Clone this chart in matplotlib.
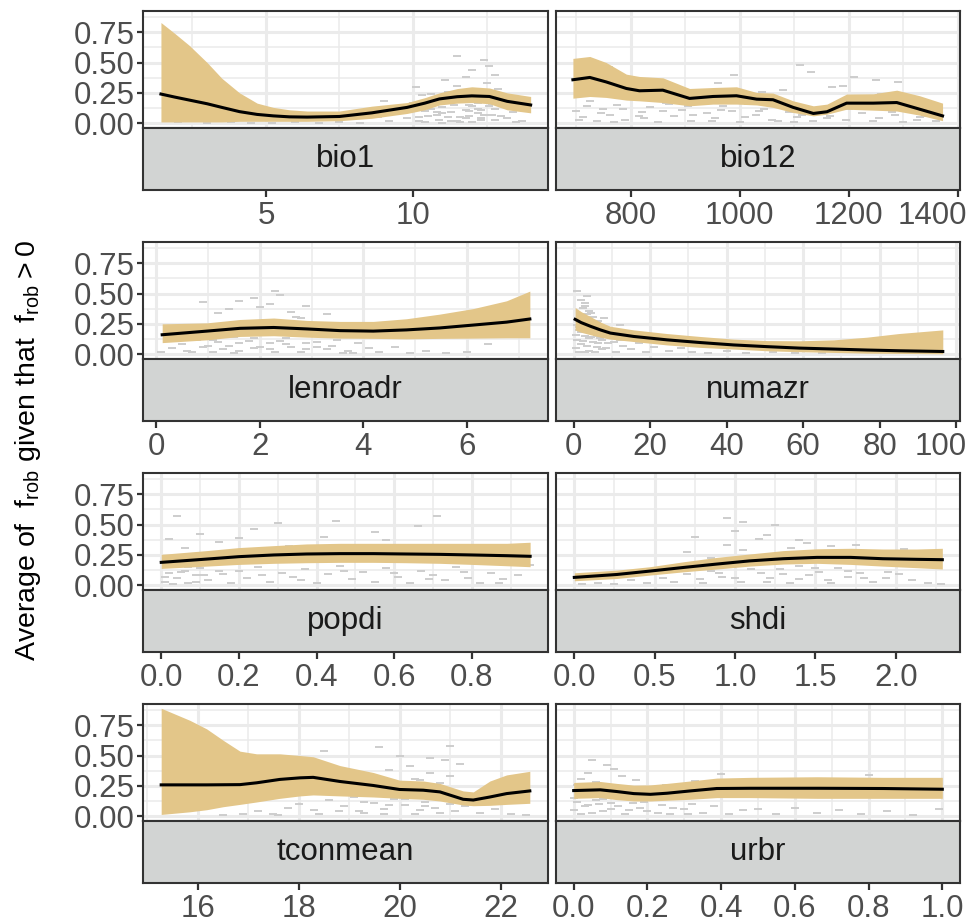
import matplotlib
matplotlib.use("Agg")
import matplotlib.pyplot as plt
import numpy as np

plt.rcParams['font.family'] = ['Liberation Sans', 'DejaVu Sans']
plt.rcParams['mathtext.fontset'] = 'custom'
plt.rcParams['mathtext.rm'] = 'Liberation Sans'

# ---- smooth fits (x, lower, fit, upper) ----
bio1_x = [1.43, 1.9, 2.4, 3.0, 3.5, 4.1, 4.7, 5.25, 5.8, 6.4, 7.5, 8.6, 9.8, 10.4, 10.9, 11.5, 12.0, 12.6, 13.2, 14.0]
bio1_lo = [0.01, 0.01, 0.01, 0.01, 0.01, 0.015, 0.015, 0.015, 0.015, 0.015, 0.02, 0.04, 0.08, 0.11, 0.15, 0.165, 0.17, 0.16, 0.11, 0.085]
bio1_fit = [0.24, 0.215, 0.19, 0.16, 0.13, 0.095, 0.072, 0.06, 0.052, 0.05, 0.055, 0.085, 0.13, 0.165, 0.20, 0.218, 0.225, 0.22, 0.18, 0.15]
bio1_hi = [0.83, 0.74, 0.64, 0.50, 0.37, 0.25, 0.165, 0.13, 0.11, 0.10, 0.10, 0.14, 0.17, 0.21, 0.25, 0.285, 0.30, 0.29, 0.25, 0.22]

bio12_x = [694, 725, 755, 792, 816, 859, 908, 951, 994, 1031, 1061, 1098, 1135, 1160, 1196, 1245, 1288, 1330, 1372]
bio12_lo = [0.206, 0.22, 0.212, 0.19, 0.184, 0.17, 0.143, 0.157, 0.157, 0.15, 0.13, 0.088, 0.06, 0.074, 0.115, 0.107, 0.10, 0.066, 0.02]
bio12_fit = [0.358, 0.377, 0.34, 0.286, 0.267, 0.272, 0.204, 0.22, 0.226, 0.198, 0.193, 0.13, 0.08, 0.094, 0.165, 0.165, 0.17, 0.115, 0.06]
bio12_hi = [0.534, 0.55, 0.50, 0.404, 0.385, 0.374, 0.286, 0.294, 0.30, 0.253, 0.248, 0.184, 0.143, 0.157, 0.24, 0.242, 0.272, 0.226, 0.165]

lenroadr_x = [0.12, 0.98, 1.62, 2.27, 2.91, 3.55, 4.19, 4.83, 5.47, 6.12, 6.76, 7.21]
lenroadr_lo = [0.095, 0.118, 0.146, 0.152, 0.14, 0.132, 0.13, 0.126, 0.13, 0.132, 0.135, 0.135]
lenroadr_fit = [0.16, 0.19, 0.213, 0.22, 0.208, 0.194, 0.19, 0.20, 0.216, 0.24, 0.264, 0.29]
lenroadr_hi = [0.25, 0.258, 0.286, 0.298, 0.278, 0.27, 0.27, 0.292, 0.33, 0.376, 0.44, 0.52]

numazr_x = [0.4, 2.0, 4.4, 7.0, 9.6, 15.7, 24.4, 33.0, 41.8, 50.5, 59.0, 68.0, 76.7, 85.0, 96.5]
numazr_lo = [0.20, 0.18, 0.16, 0.14, 0.124, 0.104, 0.076, 0.056, 0.042, 0.028, 0.02, 0.014, 0.008, 0.006, 0.003]
numazr_fit = [0.287, 0.26, 0.23, 0.20, 0.174, 0.146, 0.118, 0.096, 0.076, 0.062, 0.05, 0.042, 0.034, 0.028, 0.022]
numazr_hi = [0.385, 0.35, 0.31, 0.265, 0.23, 0.20, 0.17, 0.146, 0.124, 0.112, 0.11, 0.118, 0.14, 0.17, 0.20]

popdi_x = [0.0, 0.117, 0.2, 0.29, 0.374, 0.46, 0.546, 0.63, 0.717, 0.80, 0.89, 0.95]
popdi_lo = [0.138, 0.157, 0.171, 0.18, 0.185, 0.188, 0.188, 0.185, 0.18, 0.171, 0.16, 0.152]
popdi_fit = [0.188, 0.215, 0.235, 0.249, 0.257, 0.26, 0.26, 0.257, 0.254, 0.249, 0.243, 0.238]
popdi_hi = [0.254, 0.285, 0.31, 0.326, 0.34, 0.345, 0.345, 0.345, 0.345, 0.345, 0.345, 0.354]

shdi_x = [0.0, 0.265, 0.47, 0.68, 0.887, 1.09, 1.30, 1.51, 1.72, 1.92, 2.13, 2.29]
shdi_lo = [0.036, 0.055, 0.083, 0.11, 0.133, 0.157, 0.174, 0.18, 0.171, 0.157, 0.144, 0.133]
shdi_fit = [0.064, 0.088, 0.116, 0.146, 0.174, 0.20, 0.218, 0.229, 0.229, 0.218, 0.213, 0.21]
shdi_hi = [0.102, 0.124, 0.152, 0.193, 0.229, 0.257, 0.285, 0.30, 0.304, 0.298, 0.298, 0.304]

tconmean_x = [15.28, 15.85, 16.18, 16.51, 16.84, 17.17, 17.63, 18.03, 18.29, 18.82, 19.48, 20.0, 20.47, 20.8, 21.26, 21.46, 21.79, 22.12, 22.58]
tconmean_lo = [0.014, 0.036, 0.053, 0.078, 0.097, 0.117, 0.147, 0.167, 0.175, 0.167, 0.158, 0.147, 0.139, 0.125, 0.092, 0.086, 0.089, 0.097, 0.106]
tconmean_fit = [0.258, 0.258, 0.258, 0.259, 0.26, 0.275, 0.303, 0.316, 0.32, 0.286, 0.253, 0.22, 0.214, 0.20, 0.139, 0.133, 0.158, 0.186, 0.208]
tconmean_hi = [0.89, 0.79, 0.72, 0.625, 0.536, 0.514, 0.514, 0.50, 0.49, 0.417, 0.36, 0.297, 0.29, 0.27, 0.208, 0.20, 0.29, 0.34, 0.37]

urbr_x = [0.0, 0.072, 0.117, 0.163, 0.208, 0.253, 0.316, 0.388, 0.479, 0.66, 0.84, 1.0]
urbr_lo = [0.147, 0.153, 0.136, 0.125, 0.125, 0.131, 0.139, 0.153, 0.153, 0.147, 0.147, 0.147]
urbr_fit = [0.211, 0.217, 0.203, 0.186, 0.18, 0.189, 0.208, 0.228, 0.23, 0.23, 0.228, 0.222]
urbr_hi = [0.278, 0.286, 0.27, 0.256, 0.258, 0.27, 0.29, 0.314, 0.32, 0.325, 0.32, 0.32]

# ---- raw observations (grey dashes), approximate ----
bio1_px = [2.0, 3.0, 3.8, 4.5, 5.2, 6.0, 6.8, 7.5, 8.2, 8.8, 9.2, 9.5, 9.8, 10.0, 10.2, 10.4, 10.5, 10.7,
           10.9, 11.0, 11.2, 11.3, 11.5, 11.6, 11.8, 11.9, 12.0, 12.1, 12.3, 12.4, 12.5, 12.7, 12.8, 13.0,
           13.2, 13.4, 13.7, 10.6, 11.1, 11.4, 11.7, 12.2, 12.6, 11.0, 12.0, 12.4, 10.3, 11.8, 12.9, 13.5,
           9.0, 10.1, 11.5, 12.2, 11.3, 11.9, 12.3, 10.8, 11.6, 12.8,
           10.2, 10.6, 11.0, 11.4, 11.8, 12.2, 12.6, 13.0, 10.4, 10.8, 11.2, 11.6, 12.0, 12.4, 12.8, 11.1,
           11.5, 11.9, 12.3, 12.7]
bio1_py = [0.01, 0.0, 0.01, 0.0, 0.0, 0.01, 0.0, 0.01, 0.0, 0.05, 0.02, 0.08, 0.04, 0.17, 0.02, 0.10, 0.06,
           0.20, 0.03, 0.13, 0.26, 0.09, 0.31, 0.05, 0.38, 0.15, 0.44, 0.22, 0.11, 0.52, 0.33, 0.07, 0.40,
           0.16, 0.04, 0.09, 0.02, 0.24, 0.36, 0.18, 0.27, 0.12, 0.47, 0.0, 0.01, 0.20, 0.23, 0.04, 0.28,
           0.01, 0.18, 0.30, 0.55, 0.08, 0.02, 0.06, 0.03, 0.07, 0.01, 0.12,
           0.05, 0.12, 0.08, 0.15, 0.11, 0.17, 0.14, 0.06, 0.01, 0.09, 0.05, 0.19, 0.14, 0.07, 0.03, 0.18,
           0.02, 0.10, 0.04, 0.16]

bio12_px = [700, 712, 725, 738, 750, 762, 775, 790, 805, 820, 835, 850, 865, 880, 895, 910, 925, 940,
            955, 970, 985, 1000, 1015, 1030, 1045, 1060, 1075, 1090, 1105, 1120, 1135, 1150, 1165, 1180,
            1195, 1210, 1225, 1240, 1255, 1270, 1285, 1300, 1315, 1330, 1345, 1360, 730, 780, 830, 880,
            960, 1040, 1110, 1130, 1170, 1210, 1250, 1290, 760, 900, 990, 1080, 1190, 1260,
            705, 745, 785, 825, 870, 915, 965, 1010, 1055, 1100, 1145, 1200, 1245, 1295, 1340,
            720, 770, 815, 860, 905, 950, 995, 1035, 1070, 1115, 1160, 1230, 1280, 1325]
bio12_py = [0.10, 0.05, 0.18, 0.02, 0.12, 0.07, 0.15, 0.03, 0.20, 0.09, 0.13, 0.01, 0.17, 0.06, 0.11,
            0.02, 0.19, 0.08, 0.04, 0.14, 0.10, 0.01, 0.16, 0.07, 0.12, 0.03, 0.19, 0.09, 0.05, 0.14,
            0.02, 0.11, 0.06, 0.17, 0.03, 0.13, 0.08, 0.20, 0.04, 0.12, 0.07, 0.01, 0.15, 0.05, 0.10,
            0.02, 0.29, 0.31, 0.25, 0.28, 0.33, 0.26, 0.48, 0.42, 0.30, 0.38, 0.36, 0.34, 0.46, 0.22,
            0.40, 0.27, 0.31, 0.24,
            0.03, 0.08, 0.12, 0.04, 0.16, 0.07, 0.11, 0.05, 0.15, 0.01, 0.08, 0.12, 0.02, 0.11, 0.06,
            0.14, 0.01, 0.06, 0.10, 0.14, 0.02, 0.17, 0.10, 0.02, 0.07, 0.04, 0.15, 0.09, 0.03]

lenroadr_px = [0.1, 0.3, 0.5, 0.6, 0.8, 0.9, 1.0, 1.1, 1.2, 1.3, 1.4, 1.5, 1.6, 1.7, 1.8, 1.9, 2.0, 2.1,
               2.2, 2.3, 2.4, 2.5, 2.6, 2.7, 2.8, 2.9, 3.0, 3.1, 3.2, 3.4, 3.5, 3.7, 3.9, 4.1, 4.3, 4.6,
               4.9, 5.2, 5.6, 6.0, 6.4, 0.9, 1.4, 1.9, 2.3, 2.6, 2.9, 3.3, 1.6, 2.0, 2.4, 2.8, 1.2, 2.2,
               0.4, 0.7, 1.0, 1.3, 1.6, 1.9, 2.2, 2.5, 2.8, 3.1, 3.4, 3.8, 0.6, 1.1, 1.5, 2.0, 2.4, 2.9,
               3.3, 3.6]
lenroadr_py = [0.02, 0.05, 0.08, 0.03, 0.12, 0.06, 0.16, 0.02, 0.10, 0.20, 0.07, 0.14, 0.03, 0.24, 0.11,
               0.05, 0.18, 0.28, 0.09, 0.02, 0.22, 0.13, 0.06, 0.31, 0.15, 0.04, 0.19, 0.10, 0.25, 0.07,
               0.12, 0.03, 0.09, 0.05, 0.02, 0.06, 0.01, 0.03, 0.01, 0.02, 0.08, 0.43, 0.37, 0.46, 0.52,
               0.35, 0.40, 0.33, 0.44, 0.39, 0.49, 0.30, 0.34, 0.41,
               0.11, 0.02, 0.07, 0.04, 0.09, 0.13, 0.04, 0.08, 0.02, 0.06, 0.14, 0.01, 0.15, 0.12,
               0.01, 0.06, 0.11, 0.09, 0.04, 0.01]

numazr_px = [0.5, 1.0, 1.5, 2.0, 2.5, 3.0, 3.5, 4.0, 4.5, 5.0, 5.5, 6.0, 6.5, 7.0, 7.5, 8.0, 9.0, 10.0,
             11.0, 12.0, 13.0, 14.0, 15.0, 17.0, 19.0, 21.0, 23.0, 25.0, 28.0, 31.0, 35.0, 40.0, 45.0,
             52.0, 58.0, 65.0, 72.0, 2.0, 3.0, 4.0, 5.0, 6.0, 1.0, 2.5, 3.5, 4.5, 8.0, 12.0, 1.5, 3.0,
             0.5, 1.5, 2.5, 3.5, 4.5, 5.5, 6.5, 7.5, 1.0, 2.0, 3.0, 4.0, 5.0, 6.0, 8.5, 10.5]
numazr_py = [0.05, 0.12, 0.20, 0.08, 0.28, 0.15, 0.33, 0.03, 0.24, 0.10, 0.18, 0.06, 0.27, 0.13, 0.04,
             0.21, 0.09, 0.16, 0.02, 0.12, 0.07, 0.19, 0.04, 0.09, 0.02, 0.06, 0.10, 0.03, 0.05, 0.02,
             0.01, 0.03, 0.01, 0.02, 0.01, 0.01, 0.02, 0.45, 0.40, 0.36, 0.31, 0.26, 0.52, 0.38, 0.48,
             0.34, 0.30, 0.24, 0.22, 0.42,
             0.16, 0.02, 0.11, 0.07, 0.14, 0.02, 0.09, 0.12, 0.24, 0.18, 0.02, 0.13, 0.22, 0.15, 0.05, 0.10]

popdi_px = [0.01, 0.02, 0.03, 0.04, 0.05, 0.06, 0.07, 0.08, 0.09, 0.10, 0.12, 0.14, 0.16, 0.18, 0.20,
            0.22, 0.25, 0.28, 0.31, 0.34, 0.37, 0.40, 0.43, 0.46, 0.49, 0.52, 0.55, 0.58, 0.61, 0.64,
            0.67, 0.70, 0.73, 0.76, 0.79, 0.82, 0.85, 0.88, 0.92, 0.95, 0.02, 0.06, 0.10, 0.15, 0.24,
            0.33, 0.42, 0.50, 0.58, 0.66, 0.74, 0.83, 0.04, 0.30, 0.55, 0.71, 0.20, 0.45,
            0.01, 0.03, 0.05, 0.07, 0.09, 0.11, 0.13, 0.15, 0.26, 0.36, 0.47, 0.60, 0.69, 0.78, 0.87]
popdi_py = [0.03, 0.10, 0.16, 0.06, 0.21, 0.12, 0.02, 0.26, 0.08, 0.14, 0.04, 0.18, 0.09, 0.02, 0.12,
            0.06, 0.15, 0.03, 0.10, 0.07, 0.13, 0.02, 0.09, 0.16, 0.05, 0.11, 0.03, 0.14, 0.07, 0.02,
            0.12, 0.08, 0.04, 0.15, 0.06, 0.02, 0.10, 0.05, 0.08, 0.17, 0.38, 0.31, 0.42, 0.36, 0.46,
            0.32, 0.40, 0.29, 0.37, 0.49, 0.33, 0.30, 0.57, 0.51, 0.44, 0.57, 0.39, 0.53,
            0.07, 0.01, 0.11, 0.15, 0.03, 0.08, 0.20, 0.12, 0.08, 0.04, 0.12, 0.10, 0.05, 0.11, 0.02]

shdi_px = [0.05, 0.15, 0.25, 0.35, 0.45, 0.55, 0.62, 0.70, 0.78, 0.85, 0.92, 0.98, 1.04, 1.10, 1.16,
           1.22, 1.28, 1.34, 1.40, 1.46, 1.52, 1.58, 1.64, 1.70, 1.78, 1.86, 1.94, 2.02, 2.10, 2.20,
           2.28, 0.70, 0.85, 0.95, 1.05, 1.15, 1.25, 1.35, 1.45, 1.55, 1.65, 1.75, 1.90, 2.05, 0.75,
           1.00, 1.20, 1.40, 1.60, 0.95, 1.05, 1.25,
           0.80, 0.90, 1.00, 1.10, 1.20, 1.30, 1.40, 1.50, 1.60, 1.70, 1.80, 1.95, 0.65, 1.15, 1.45]
shdi_py = [0.01, 0.02, 0.01, 0.04, 0.02, 0.06, 0.03, 0.09, 0.05, 0.12, 0.07, 0.15, 0.03, 0.18, 0.10,
           0.06, 0.13, 0.02, 0.16, 0.08, 0.11, 0.04, 0.14, 0.07, 0.10, 0.03, 0.06, 0.09, 0.04, 0.02,
           0.01, 0.27, 0.22, 0.33, 0.29, 0.38, 0.26, 0.31, 0.35, 0.28, 0.24, 0.33, 0.22, 0.30, 0.40,
           0.45, 0.41, 0.37, 0.32, 0.55, 0.52, 0.50,
           0.02, 0.10, 0.06, 0.13, 0.03, 0.09, 0.05, 0.14, 0.02, 0.12, 0.06, 0.11, 0.14, 0.21, 0.18]

tconmean_px = [16.5, 16.9, 17.2, 17.5, 17.8, 18.0, 18.3, 18.6, 18.9, 19.1, 19.3, 19.5, 19.7, 19.9,
               20.1, 20.3, 20.5, 20.7, 20.9, 21.1, 21.3, 21.6, 21.9, 22.2, 22.5, 18.2, 18.7, 19.2,
               19.6, 20.0, 20.4, 20.8, 21.0, 19.4, 19.8, 20.2, 20.6, 21.2, 18.5, 19.0, 20.0, 20.9,
               19.6, 20.3, 21.0, 20.6,
               19.2, 19.5, 19.8, 20.1, 20.4, 20.7, 21.0, 19.3, 19.7, 20.2, 20.5, 20.8, 18.4, 18.8, 17.6]
tconmean_py = [0.01, 0.02, 0.04, 0.02, 0.07, 0.10, 0.05, 0.13, 0.08, 0.16, 0.03, 0.11, 0.06, 0.14,
               0.09, 0.02, 0.12, 0.07, 0.15, 0.04, 0.08, 0.03, 0.06, 0.02, 0.01, 0.19, 0.22, 0.25,
               0.28, 0.24, 0.30, 0.27, 0.33, 0.35, 0.38, 0.41, 0.36, 0.43, 0.54, 0.32, 0.50, 0.46,
               0.57, 0.31, 0.58, 0.48,
               0.04, 0.18, 0.09, 0.14, 0.05, 0.17, 0.10, 0.12, 0.02, 0.19, 0.08, 0.03, 0.02, 0.04, 0.01]

urbr_px = [0.00, 0.01, 0.02, 0.03, 0.04, 0.05, 0.06, 0.07, 0.08, 0.10, 0.12, 0.14, 0.16, 0.18, 0.20,
           0.22, 0.24, 0.26, 0.28, 0.30, 0.32, 0.35, 0.38, 0.42, 0.46, 0.50, 0.55, 0.60, 0.66, 0.72,
           0.78, 0.85, 0.92, 0.99, 0.02, 0.04, 0.06, 0.09, 0.13, 0.17, 0.25, 0.33, 0.05, 0.11, 0.40, 0.80,
           0.00, 0.02, 0.04, 0.06, 0.08, 0.10, 0.12, 0.15, 0.19, 0.23, 0.27, 0.31, 0.01, 0.05]
urbr_py = [0.05, 0.12, 0.20, 0.08, 0.16, 0.03, 0.24, 0.10, 0.14, 0.06, 0.18, 0.02, 0.11, 0.07, 0.04,
           0.13, 0.09, 0.02, 0.15, 0.06, 0.10, 0.03, 0.08, 0.02, 0.05, 0.06, 0.02, 0.07, 0.03, 0.05,
           0.02, 0.04, 0.01, 0.06, 0.31, 0.36, 0.28, 0.42, 0.33, 0.30, 0.26, 0.29, 0.46, 0.39, 0.35, 0.34,
           0.15, 0.02, 0.09, 0.13, 0.04, 0.11, 0.08, 0.05, 0.12, 0.03, 0.07, 0.02, 0.26, 0.22]

panels = [
    ("bio1", bio1_x, bio1_lo, bio1_fit, bio1_hi, bio1_px, bio1_py,
     (0.82, 14.59), [5, 10], [2.5, 7.5, 12.5]),
    ("bio12", bio12_x, bio12_lo, bio12_fit, bio12_hi, bio12_px, bio12_py,
     (663, 1404), [800, 1000, 1200, 1400], [700, 900, 1100, 1300]),
    ("lenroadr", lenroadr_x, lenroadr_lo, lenroadr_fit, lenroadr_hi, lenroadr_px, lenroadr_py,
     (-0.25, 7.56), [0, 2, 4, 6], [1, 3, 5, 7]),
    ("numazr", numazr_x, numazr_lo, numazr_fit, numazr_hi, numazr_px, numazr_py,
     (-4.6, 101), [0, 20, 40, 60, 80, 100], [10, 30, 50, 70, 90]),
    ("popdi", popdi_x, popdi_lo, popdi_fit, popdi_hi, popdi_px, popdi_py,
     (-0.047, 0.996), [0, 0.2, 0.4, 0.6, 0.8], [0.1, 0.3, 0.5, 0.7, 0.9]),
    ("shdi", shdi_x, shdi_lo, shdi_fit, shdi_hi, shdi_px, shdi_py,
     (-0.114, 2.40), [0, 0.5, 1.0, 1.5, 2.0], [0.25, 0.75, 1.25, 1.75, 2.25]),
    ("tconmean", tconmean_x, tconmean_lo, tconmean_fit, tconmean_hi, tconmean_px, tconmean_py,
     (14.92, 22.94), [16, 18, 20, 22], [15, 17, 19, 21]),
    ("urbr", urbr_x, urbr_lo, urbr_fit, urbr_hi, urbr_px, urbr_py,
     (-0.048, 1.048), [0, 0.2, 0.4, 0.6, 0.8, 1.0], [0.1, 0.3, 0.5, 0.7, 0.9]),
]

tick_fmt = {
    "bio1": "{:.0f}", "bio12": "{:.0f}", "lenroadr": "{:.0f}", "numazr": "{:.0f}",
    "popdi": "{:.1f}", "shdi": "{:.1f}", "tconmean": "{:.0f}", "urbr": "{:.1f}",
}
# last labels that sit flush against the right edge in the original
flush_right = {"bio12", "numazr"}

W, H = 976, 924
fig = plt.figure(figsize=(W / 100, H / 100), dpi=100)

col_x = [143, 556]
col_w = [405, 404]
row_top = [11, 242, 473, 704]
plot_h, strip_h = 117, 62

ribbon_col = "#E3C689"
border_col = "#333333"
label_col = "#4D4D4D"
fs = 22.5
tick_len, tick_pad = 5, 3

for i, (name, x, lo, fit, hi, px, py, xlim, majors, minors) in enumerate(panels):
    r, c = divmod(i, 2)
    x0, w, top = col_x[c], col_w[c], row_top[r]
    ax = fig.add_axes([x0 / W, 1 - (top + plot_h) / H, w / W, plot_h / H])
    sx = fig.add_axes([x0 / W, 1 - (top + plot_h + strip_h) / H, w / W, strip_h / H])

    # grid
    for v in [0.125, 0.375, 0.625, 0.875]:
        ax.axhline(v, color="#EBEBEB", lw=1.1, zorder=0)
    for v in [0, 0.25, 0.5, 0.75]:
        ax.axhline(v, color="#EBEBEB", lw=2.2, zorder=0)
    for v in minors:
        ax.axvline(v, color="#EBEBEB", lw=1.1, zorder=0)
    for v in majors:
        ax.axvline(v, color="#EBEBEB", lw=2.2, zorder=0)

    ax.plot(px, py, ls="none", marker="_", ms=5.5, mew=1.4, color="#CDCDCD", zorder=1)
    ax.fill_between(x, lo, hi, color=ribbon_col, lw=0, zorder=2)
    ax.plot(x, fit, color="black", lw=2.2, zorder=3)

    ax.set_xlim(*xlim)
    ax.set_ylim(-0.04, 0.925)
    ax.set_xticks([])
    if c == 0:
        ax.set_yticks([0, 0.25, 0.5, 0.75])
        ax.set_yticklabels(["0.00", "0.25", "0.50", "0.75"])
        ax.tick_params(axis="y", length=4, width=1.6, color=border_col,
                       labelsize=fs, labelcolor=label_col, pad=2)
    else:
        ax.set_yticks([])
    for s in ax.spines.values():
        s.set_color(border_col)
        s.set_linewidth(1.5)

    # strip below the panel
    sx.set_facecolor("#D2D4D3")
    sx.set_xlim(*xlim)
    sx.set_ylim(0, 1)
    sx.set_yticks([])
    sx.set_xticks(majors)
    labels = [tick_fmt[name].format(v) for v in majors]
    if name in flush_right:
        labels[-1] = ""
    sx.set_xticklabels(labels)
    sx.tick_params(axis="x", length=tick_len, width=1.6, color=border_col,
                   labelsize=fs, labelcolor=label_col, pad=tick_pad)
    for s in sx.spines.values():
        s.set_color(border_col)
        s.set_linewidth(1.5)
    sx.text(0.5, 0.5, name, transform=sx.transAxes, ha="center", va="center",
            fontsize=fs, color="#1A1A1A")
    if name in flush_right:
        lab = sx.get_xticklabels()[0]
        sx.annotate(tick_fmt[name].format(majors[-1]), xy=(1.0, 0), xycoords="axes fraction",
                    xytext=(5, -(tick_len + tick_pad)), textcoords="offset points",
                    ha="right", va="top", fontsize=fs, color=label_col)

fig.text(0.029, 0.512, r"Average of  $\mathregular{f_{rob}}$ given that  $\mathregular{f_{rob} > 0}$",
         rotation=90, ha="center", va="center", fontsize=20.5, color="black")

fig.savefig("out.png", dpi=100)
